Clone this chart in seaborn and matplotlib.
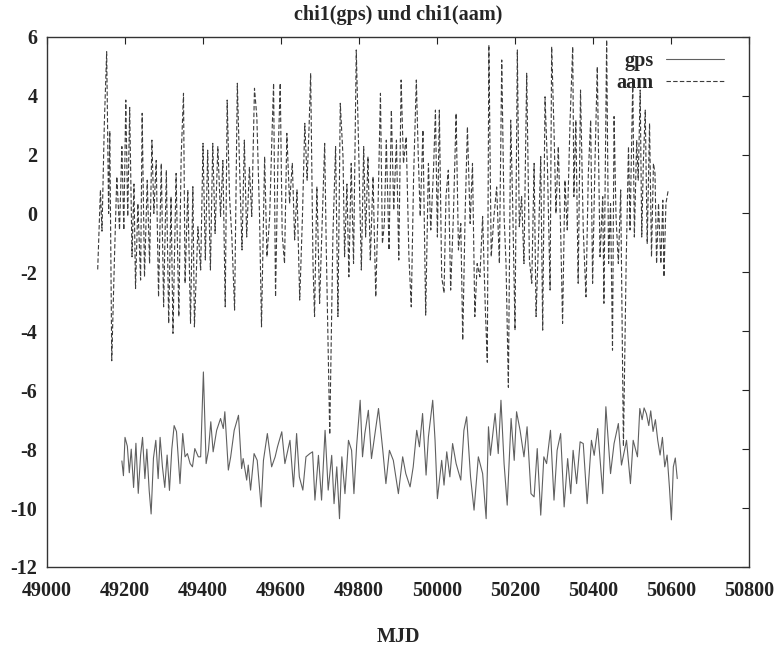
import numpy as np
import pandas as pd
import matplotlib
matplotlib.use("Agg")
import matplotlib.pyplot as plt
import seaborn as sns
from matplotlib.lines import Line2D

# ---------------- data ----------------
gps_mjd = [49192, 49196, 49200, 49206, 49211, 49216, 49222, 49228, 49234, 49240,
           49245, 49251, 49256, 49262, 49267, 49273, 49279, 49285, 49290, 49296,
           49302, 49308, 49314, 49320, 49326, 49332, 49337,
           49341, 49348, 49354, 49360, 49367, 49373, 49379, 49388, 49394, 49401,
           49408, 49414, 49420, 49426, 49435, 49445, 49452, 49456, 49465, 49471,
           49480, 49491, 49499, 49503, 49512, 49516, 49522, 49531, 49539, 49549,
           49555, 49565, 49576, 49585, 49591, 49602, 49610, 49623, 49632, 49640,
           49647, 49656, 49664, 49674, 49681, 49687, 49696, 49704, 49713, 49721,
           49730, 49736, 49743, 49750, 49756, 49764, 49773, 49781, 49787, 49794,
           49803, 49809, 49815, 49824, 49832, 49841, 49850, 49861, 49869, 49878,
           49888, 49901, 49912, 49920, 49931, 49939, 49948, 49955, 49963, 49972,
           49978, 49989, 49995, 50001, 50012, 50018, 50025, 50033, 50040, 50049,
           50061, 50069, 50076, 50086, 50095, 50106, 50117, 50126, 50132, 50137,
           50149, 50157, 50164, 50172, 50180, 50190, 50198, 50204, 50213, 50223,
           50231, 50241, 50249, 50257, 50266, 50274, 50281, 50291, 50300, 50308,
           50317, 50326, 50335, 50343, 50349, 50358, 50367, 50375, 50385, 50396,
           50403, 50412, 50425, 50433, 50445, 50454, 50465, 50473, 50486, 50496,
           50503, 50514, 50520, 50526, 50531, 50537, 50543, 50548, 50554, 50560,
           50566, 50572, 50578, 50584, 50590, 50596, 50601, 50606, 50611, 50616]
gps_val = [-8.4, -8.9, -7.6, -7.9, -8.8, -8.0, -9.3, -7.8, -9.5, -8.2,
           -7.6, -9.0, -8.0, -9.4, -10.2, -8.3, -7.7, -9.0, -7.6, -8.6,
           -9.3, -8.2, -9.4, -8.0, -7.2, -7.4, -8.4,
           -9.17, -7.47, -8.26, -8.15, -8.49, -8.60, -7.98, -8.26, -8.26, -5.38,
           -8.49, -8.04, -7.07, -8.09, -7.36, -6.96, -7.30, -6.73, -8.71, -8.26,
           -7.36, -6.85, -8.66, -8.32, -9.05, -8.54, -9.39, -8.15, -8.38, -9.96,
           -8.38, -7.47, -8.60, -8.26, -7.92, -7.41, -8.49, -7.70, -9.28, -7.47,
           -8.94, -9.39, -8.26, -8.15, -8.09, -9.73, -8.21, -9.73, -7.36, -9.39,
           -8.21, -9.85, -8.60, -10.36, -8.26, -9.51, -7.70, -8.04, -9.51, -7.87,
           -6.34, -8.26, -7.47, -6.68, -8.32, -7.47, -6.62, -8.04, -9.17, -8.04,
           -8.38, -9.51, -8.26, -8.83, -9.28, -8.60, -7.36, -7.92, -6.79, -8.88,
           -7.58, -6.34, -7.70, -9.68, -8.38, -9.22, -8.09, -8.94, -7.81, -8.49,
           -9.05, -7.36, -6.90, -8.94, -10.07, -8.26, -8.83, -10.36, -7.24, -8.21,
           -6.79, -8.15, -6.34, -8.49, -9.90, -6.96, -8.38, -6.73, -7.36, -8.26,
           -7.24, -9.51, -9.62, -7.98, -10.24, -8.26, -8.49, -7.36, -9.73, -8.04,
           -7.47, -9.96, -8.32, -9.51, -8.04, -9.17, -7.75, -7.81, -9.85, -7.70,
           -8.21, -7.30, -9.51, -6.56, -8.83, -7.81, -7.13, -8.54, -7.70, -9.17,
           -7.70, -8.26, -6.62, -7.0, -6.6, -6.8, -7.2, -6.7, -7.4, -7.0,
           -7.7, -8.2, -7.6, -8.6, -8.2, -9.3, -10.4, -8.6, -8.3, -9.0]

aam_mjd = [49130, 49137, 49141, 49147, 49153, 49158, 49161, 49166, 49173, 49179,
           49186, 49192, 49197, 49202, 49207, 49212, 49218, 49223, 49227, 49233,
           49240, 49244, 49250, 49257, 49263, 49269, 49274, 49280, 49286, 49293,
           49299, 49306, 49312, 49318, 49323, 49331, 49338, 49344, 49350, 49354,
           49361, 49368, 49374, 49378, 49387, 49394, 49400, 49406, 49412, 49419,
           49425, 49431, 49438, 49445, 49451, 49457, 49462, 49468, 49474, 49481,
           49488, 49494, 49500, 49506, 49512, 49519, 49525, 49532,
           49538, 49545, 49550, 49558, 49564, 49571, 49576, 49581, 49586, 49592,
           49598, 49603, 49609, 49615, 49622, 49629, 49635, 49641, 49648, 49655,
           49661, 49667, 49672, 49676, 49682, 49686, 49692, 49699, 49706, 49712,
           49716, 49725, 49733, 49740, 49746, 49752, 49759, 49763, 49769, 49774,
           49780, 49786, 49793, 49800, 49806, 49812, 49817, 49823, 49829, 49836,
           49843, 49849, 49855, 49860, 49865, 49870, 49877, 49883, 49889, 49896,
           49902, 49908, 49914, 49921, 49928, 49934, 49940, 49947, 49952, 49957,
           49964, 49971,
           49978, 49984, 49991, 49996, 50001, 50006, 50012, 50018, 50023, 50029,
           50035, 50042, 50049, 50055, 50061, 50066, 50072, 50078, 50085, 50091,
           50097, 50103, 50110, 50117, 50124, 50129, 50133, 50139, 50146, 50153,
           50160, 50166, 50172, 50177, 50183, 50189, 50194, 50200, 50206, 50211,
           50217, 50223, 50230, 50237, 50243, 50249, 50254, 50260, 50266, 50271,
           50277, 50283, 50290, 50294, 50300, 50305, 50311, 50317, 50322, 50328,
           50334, 50341, 50348, 50351, 50356, 50362, 50368, 50375, 50382, 50388,
           50394,
           50399, 50405, 50411, 50418, 50425, 50428, 50435, 50440, 50445, 50450,
           50454, 50459, 50465, 50471, 50478, 50485, 50491, 50495, 50502, 50506,
           50512, 50516, 50521, 50525, 50529, 50534, 50539, 50545, 50550, 50555,
           50559, 50563, 50568, 50574, 50579, 50582, 50587, 50593]
aam_val = [-1.9, 0.8, -0.6, 3.06, 5.49, 0.0, 2.8, -5.0, -1.5, 1.25,
           -0.56, 2.27, -0.56, 3.85, -0.1, 3.6, -1.47, 1.0, -2.55, 0.34,
           -2.26, 3.4, -2.15, 1.13, -1.7, 2.49, 0.0, 1.8, -2.83, 1.7,
           -3.17, 1.47, -3.73, 0.57, -4.07, 1.36, -3.5, 1.93, 4.08, -2.37,
           0.8, -3.73, 0.91, -3.85, -0.45, -1.92, 2.38, -1.58, 2.15, -1.92,
           2.38, -0.68, 2.27, -0.1, 1.8, -3.17, 3.85, 0.57, -0.8, -3.28,
           4.42, 1.47, -1.24, 2.49, -0.8, 1.58, -0.1, 4.25,
           3.29, -0.1, -3.85, 1.93, -1.47, -0.1, 2.27, 4.42, -2.83, 1.7,
           4.42, -0.68, -1.7, 2.72, 0.34, 1.7, -0.9, 0.8, -2.94, -0.1,
           3.06, 1.13, 2.94, 4.76, -1.7, -3.5, 0.91, -3.05, -0.1, 2.38,
           -1.13, -7.5, -0.8, 2.27, -3.5, 3.74, 1.93, -1.47, 1.0, -2.15,
           1.7, -1.7, 5.55, 1.7, -1.92, 2.27, -0.8, 1.93, -1.58, 1.25,
           -2.83, 0.34, 4.08, -1.02, -0.34, 2.49, -1.24, 3.51, 0.11, 2.49,
           -1.58, 4.53, 1.7, 2.6, -1.47, -3.17, 1.25, 4.53, 1.93, -0.1,
           2.83, -3.45,
           1.7, -0.56, 1.47, 3.51, -0.8, 3.51, -2.15, -2.7, 0.57, 1.47,
           -2.6, -0.1, 3.4, -1.24, -0.34, -4.3, -0.1, 2.94, -0.34, 1.7,
           -3.5, -1.7, -2.15, -0.1, -3.28, -5.05, 5.72, -1.47, -0.1, 0.9,
           -1.7, 5.21, -0.1, -1.7, -5.9, 3.17, 0.34, -3.96, 5.55, -0.45,
           0.57, -1.7, 4.76, -1.58, -2.37, 1.7, -3.5, -1.02, 1.93, -3.96,
           3.96, 1.7, -2.6, 5.66, 2.83, 0.0, 2.27, -0.56, -3.73, 1.13,
           -0.56, 3.06, 5.66, 0.57, 3.17, -2.37, 4.19, -0.56, -2.83, 1.36,
           3.17,
           -2.37, 1.7, 4.98, -1.47, 0.57, -3.05, 5.89, -1.7, 0.34, -4.64,
           3.29, -0.1, -1.7, 0.8, -7.9, -1.7, 2.27, -0.56, 4.53, -0.8,
           2.49, 1.13, 4.19, -0.8, 1.7, 3.51, -1.02, 3.06, -1.47, 1.7,
           1.36, -1.7, 0.34, -1.7, 0.45, -2.15, 0.34, 0.8]

x_ticks = [49000, 49200, 49400, 49600, 49800, 50000, 50200, 50400, 50600, 50800]
y_ticks = [6, 4, 2, 0, -2, -4, -6, -8, -10, -12]
title_text = "chi1(gps) und chi1(aam)"
x_label = "MJD"

gps_df = pd.DataFrame({"MJD": gps_mjd, "chi1": gps_val})
aam_df = pd.DataFrame({"MJD": aam_mjd, "chi1": aam_val})

# ---------------- styling ----------------
sns.set_style("white")
plt.rcParams["font.family"] = ["Liberation Serif", "DejaVu Serif"]
plt.rcParams["font.weight"] = "bold"

fig = plt.figure(figsize=(7.79, 6.55), dpi=100)
ax = fig.add_axes([47 / 779, 1 - 567 / 655, (749 - 47) / 779, (567 - 36.7) / 655])

gps_color = "#606060"
aam_color = "#3c3c3c"
sns.lineplot(data=gps_df, x="MJD", y="chi1", ax=ax, sort=False, estimator=None,
             color=gps_color, linewidth=0.8)
sns.lineplot(data=aam_df, x="MJD", y="chi1", ax=ax, sort=False, estimator=None,
             color=aam_color, linewidth=0.8, dashes=False, linestyle=(0, (4, 2)))

ax.set_xlim(49000, 50800)
ax.set_ylim(-12, 6)
ax.set_xticks(x_ticks)
ax.set_yticks(y_ticks)
ax.set_xticklabels([str(t) for t in x_ticks], fontsize=14.5, fontweight="bold")
ax.set_yticklabels([str(t) for t in y_ticks], fontsize=14.5, fontweight="bold")
ax.tick_params(direction="in", length=5, width=0.8, top=True, right=True,
               colors="#222222")
ax.tick_params(axis="x", pad=10)
ax.tick_params(axis="y", pad=7)
for s in ax.spines.values():
    s.set_linewidth(1.0)
    s.set_color("#333333")
    s.set_visible(True)

ax.set_xlabel(x_label, fontsize=14.5, fontweight="bold", labelpad=19)
ax.set_ylabel("")
ax.set_title(title_text, fontsize=14.5, fontweight="bold", pad=12)

handles = [Line2D([], [], color=gps_color, linewidth=0.8),
           Line2D([], [], color=aam_color, linewidth=0.8, linestyle=(0, (4, 2)))]
leg = ax.legend(handles, ["gps", "aam"], loc="upper right", frameon=False,
                markerfirst=False, handlelength=2.9, handletextpad=0.6,
                labelspacing=0.1, borderaxespad=0.0,
                bbox_to_anchor=(0.976, 0.9885),
                prop={"family": ["Liberation Serif"], "weight": "bold", "size": 14.5})

fig.savefig("out.png", dpi=100)
